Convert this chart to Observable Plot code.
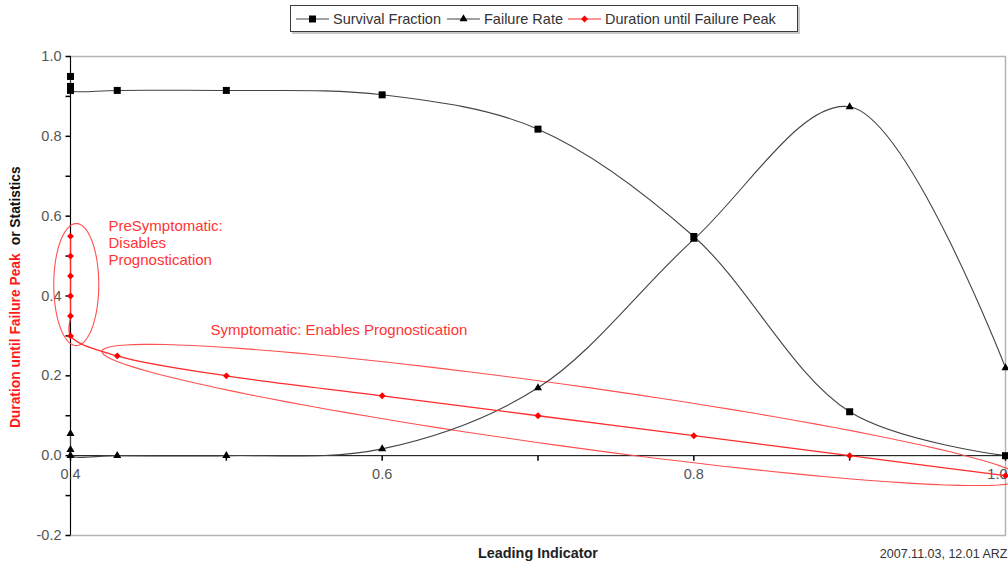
<!DOCTYPE html>
<html><head><meta charset="utf-8">
<script src="https://cdn.jsdelivr.net/npm/d3@7"></script>
<script src="https://cdn.jsdelivr.net/npm/@observablehq/plot@0.6"></script>
<style>
body{margin:0;background:#fff;font-family:"Liberation Sans",Arial,sans-serif;}
#wrap{position:relative;width:1008px;height:568px;overflow:hidden;background:#fff}
#legend{position:absolute;left:290px;top:5px;width:508px;height:27px;border:1px solid #3a3a3a;box-shadow:2px 2px 0 #c8c8c8;box-sizing:border-box;background:#fff}
.item{position:absolute;top:0;height:25px;display:flex;align-items:center;font-size:14.5px;color:#333;white-space:nowrap}
.item span{margin-left:4px}
#chart{position:absolute;left:0;top:40px}
</style></head><body>
<div id="wrap"><div id="legend"></div><div id="chart"></div></div>
<script>
// ---- series ----
const seriesNames = ["Survival Fraction", "Failure Rate", "Duration until Failure Peak"];
const seriesColors = ["#000000", "#000000", "#ff0000"];
const seriesLineColors = ["#444444", "#444444", "#ff2a2a"];
const seriesSymbols = ["square", "triangle", "diamond2"];

const survivalX = [0.4, 0.4, 0.4, 0.43, 0.5, 0.6, 0.7, 0.8, 0.9, 1.0];
const survivalY = [0.95, 0.925, 0.915, 0.915, 0.915, 0.904, 0.818, 0.549, 0.11, 0.0];

const failureX = [0.4, 0.4, 0.4, 0.43, 0.5, 0.6, 0.7, 0.8, 0.9, 1.0];
const failureY = [0.055, 0.015, 0.0, 0.0, 0.0, 0.017, 0.17, 0.542, 0.874, 0.22];

const durationX = [0.4, 0.4, 0.4, 0.4, 0.4, 0.4, 0.43, 0.5, 0.6, 0.7, 0.8, 0.9, 1.0];
const durationY = [0.55, 0.5, 0.45, 0.4, 0.35, 0.3, 0.25, 0.2, 0.15, 0.1, 0.05, 0.0, -0.05];

// ---- axes ----
const xTicks = [0.4, 0.5, 0.6, 0.7, 0.8, 0.9, 1.0];
const xTickLabels = [0.4, 0.6, 0.8, 1.0];
const yTicks = [-0.2, -0.1, 0.0, 0.1, 0.2, 0.3, 0.4, 0.5, 0.6, 0.7, 0.8, 0.9, 1.0];
const yTickLabels = [-0.2, 0.0, 0.2, 0.4, 0.6, 0.8, 1.0];
const yTitleParts = ["Duration until Failure Peak", "or Statistics"];
const yTitleColors = ["#ff1a1a", "#111111"];
const yTitleCenters = [0.288, 0.626];
const xTitle = "Leading Indicator";
const stamp = "2007.11.03, 12.01 ARZ";

// ---- annotations ----
const noteTexts = ["PreSymptomatic:\nDisables\nPrognostication", "Symptomatic: Enables Prognostication"];
const noteX = [0.4244, 0.4899];
const noteY = [0.534, 0.317];
// ellipses: center and two conjugate half-axes (data units)
const ellipseCX = [0.4037, 0.7154];
const ellipseCY = [0.4286, 0.102];
const ellipseUX = [0.01444, 0.2952];
const ellipseUY = [0.0, -0.1596];
const ellipseVX = [0.0, 0.0027];
const ellipseVY = [0.1529, 0.0762];

const rows = (xs, ys) => xs.map((x, i) => ({x, y: ys[i]}));
const survival = rows(survivalX, survivalY);
const failure = rows(failureX, failureY);
const duration = rows(durationX, durationY);
const seriesData = [survival, failure, duration];

const outlines = [];
ellipseCX.forEach((cx, k) => {
  for (let a = 0; a <= 360; a += 3) {
    const t = a * Math.PI / 180;
    outlines.push({id: k,
      x: cx + ellipseUX[k] * Math.cos(t) + ellipseVX[k] * Math.sin(t),
      y: ellipseCY[k] + ellipseUY[k] * Math.cos(t) + ellipseVY[k] * Math.sin(t)});
  }
});

const tickDown = {draw(ctx) { ctx.moveTo(0, 0); ctx.lineTo(0, 5); }};
const tickLeft = {draw(ctx) { ctx.moveTo(0, 0); ctx.lineTo(-5, 0); }};
const markerR = [3.95, 3.0, 3.1];
const lastX = xTickLabels[xTickLabels.length - 1];

const marks = [
  Plot.frame({stroke: "#b4b4b4", strokeWidth: 1.5}),
  Plot.ruleX([0.4], {stroke: "#000"}),
  Plot.ruleY([0], {stroke: "#000"}),
  Plot.dot(xTicks, {x: d => d, y: 0, symbol: tickDown, stroke: "#000", fill: "none"}),
  Plot.dot(yTicks, {x: 0.4, y: d => d, symbol: tickLeft, stroke: "#000", fill: "none"}),
  Plot.text(xTickLabels.filter(d => d !== lastX), {x: d => d, y: 0, dy: 19, text: d => d.toFixed(1), fill: "#555", fontSize: 14.5}),
  Plot.text([lastX], {x: d => d, y: 0, dy: 19, dx: 2, textAnchor: "end", text: d => d.toFixed(1), fill: "#555", fontSize: 14.5}),
  Plot.text(yTickLabels, {x: 0.4, y: d => d, dx: -9, textAnchor: "end", text: d => d.toFixed(1), fill: "#555", fontSize: 14.5}),
  Plot.line(outlines, {x: "x", y: "y", z: "id", stroke: "#ff5050", strokeWidth: 1.1})
];
seriesData.forEach((data, i) => {
  marks.push(Plot.line(data, {x: "x", y: "y", curve: "catmull-rom", stroke: seriesLineColors[i], strokeWidth: i === 2 ? 1.3 : 1.1}));
});
seriesData.forEach((data, i) => {
  marks.push(Plot.dot(data, {x: "x", y: "y", symbol: seriesSymbols[i], r: markerR[i], fill: seriesColors[i], stroke: "none"}));
});
marks.push(
  Plot.text(noteTexts, {x: (d, i) => noteX[i], y: (d, i) => noteY[i], text: d => d, textAnchor: "start", lineAnchor: "middle", lineHeight: 1.14, fill: "#ff3535", fontSize: 15}),
  Plot.text(yTitleParts, {x: 0.4 - 55 / 1558, y: (d, i) => yTitleCenters[i], text: d => d, rotate: -90, fill: (d, i) => yTitleColors[i], fontWeight: "bold", fontSize: 13.8}),
  Plot.text([xTitle], {frameAnchor: "bottom", dy: 22, fill: "#222", fontWeight: "bold", fontSize: 14.4}),
  Plot.text([stamp], {frameAnchor: "bottom-right", dx: 2, dy: 22, textAnchor: "end", fill: "#333", fontSize: 12.5})
);

const chart = Plot.plot({
  width: 1008,
  height: 528,
  marginTop: 16,
  marginBottom: 33,
  marginLeft: 70,
  marginRight: 3,
  style: {fontFamily: "Liberation Sans, Arial, sans-serif", fontSize: "14.5px", background: "transparent"},
  x: {domain: [0.4, 1.0], axis: null},
  y: {domain: [-0.2, 1.0], axis: null},
  color: {type: "identity"},
  marks
});
document.getElementById("chart").appendChild(chart);

// ---- legend ----
const itemLeft = [5, 156, 277];
const legend = d3.select("#legend");
seriesNames.forEach((name, i) => {
  const item = legend.append("div").attr("class", "item").style("left", itemLeft[i] + "px");
  const svg = item.append("svg").attr("width", 33).attr("height", 12);
  svg.append("line").attr("x1", 0).attr("x2", 33).attr("y1", 6).attr("y2", 6)
    .attr("stroke", seriesLineColors[i]).attr("stroke-width", 1.2);
  const symType = {square: d3.symbolSquare, triangle: d3.symbolTriangle, diamond2: d3.symbolDiamond2}[seriesSymbols[i]];
  svg.append("path").attr("transform", "translate(16.5,6)")
    .attr("d", d3.symbol(symType, markerR[i] * markerR[i] * Math.PI)())
    .attr("fill", seriesColors[i]);
  item.append("span").text(name);
});
</script>
</body></html>
